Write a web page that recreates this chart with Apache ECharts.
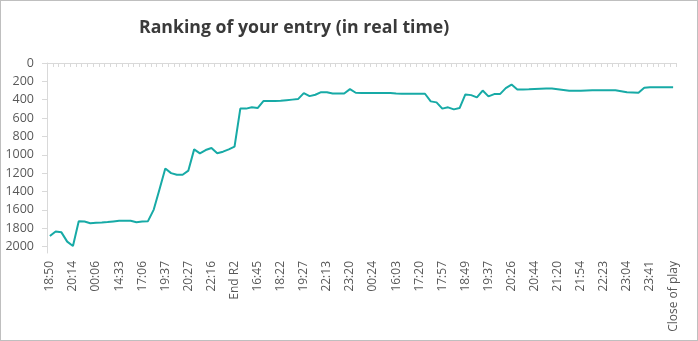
<!DOCTYPE html>
<html>
<head>
<meta charset="utf-8">
<script src="https://cdn.jsdelivr.net/npm/echarts@6/dist/echarts.min.js"></script>
<style>
  html, body { margin: 0; padding: 0; background: #fff; }
  #chart { width: 698px; height: 341px; box-sizing: border-box; border: 1px solid #bfbfbf; }
</style>
</head>
<body>
<div id="chart"></div>
<script>
// Time stamps printed under the axis (one every fourth reading)
const tickLabels = ['18:50', '20:14', '00:06', '14:33', '17:06', '19:37', '20:27', '22:16', 'End R2',
  '16:45', '18:22', '19:27', '22:13', '23:20', '00:24', '16:03', '17:20', '17:57', '18:49', '19:37',
  '20:26', '20:44', '21:20', '21:54', '22:23', '23:04', '23:41', 'Close of play'];

// Rank of the entry at each reading (lower is better)
const ranking = [
  1885, 1835, 1845, 1946, 1993, 1723, 1727, 1745, 1741, 1739,
  1733, 1726, 1719, 1719, 1719, 1734, 1728, 1723, 1597, 1375,
  1150, 1200, 1218, 1218, 1172, 941, 984, 948, 926, 984,
  966, 941, 912, 497, 497, 483, 491, 415, 415, 415,
  411, 405, 399, 393, 328, 361, 346, 318, 318, 332,
  332, 332, 285, 324, 326, 328, 328, 328, 328, 328,
  332, 335, 335, 335, 335, 335, 418, 429, 497, 483,
  505, 491, 343, 350, 375, 300, 364, 339, 339, 274,
  235, 289, 289, 287, 284, 281, 279, 278, 285, 294,
  303, 303, 303, 300, 298, 296, 296, 296, 296, 307,
  318, 321, 324, 270, 264, 264, 264, 264, 264
];

const rankTicks = [0, 200, 400, 600, 800, 1000, 1200, 1400, 1600, 1800, 2000];

// One category per reading; only every fourth one carries a printed time
const categories = ranking.map((_, i) => (i % 4 === 0 ? tickLabels[i / 4] : ''));

const chart = echarts.init(document.getElementById('chart'), null, { renderer: 'canvas' });
chart.setOption({
  animation: false,
  title: {
    text: 'Ranking of your entry (in real time)',
    left: 133,
    top: 13,
    textStyle: { fontFamily: 'Open Sans', fontWeight: 'bold', fontSize: 17.7, color: '#3a3a3a' }
  },
  grid: { left: 46, right: 21, top: 62, bottom: 87, containLabel: false },
  xAxis: {
    type: 'category',
    data: categories,
    boundaryGap: true,
    axisLine: { lineStyle: { color: '#d9d9d9', width: 1 } },
    axisTick: { show: true, interval: 0, length: 4, lineStyle: { color: '#d9d9d9' } },
    axisLabel: {
      interval: 3,
      rotate: 90,
      margin: 8,
      fontFamily: 'Open Sans',
      fontSize: 12,
      color: '#595959'
    },
    splitLine: { show: false }
  },
  yAxis: {
    type: 'value',
    inverse: true,
    min: 0,
    max: 2070,
    axisLine: { show: true, lineStyle: { color: '#d9d9d9', width: 1 } },
    axisTick: { show: true, length: 5, customValues: rankTicks, lineStyle: { color: '#d9d9d9' } },
    axisLabel: {
      customValues: rankTicks,
      formatter: (v) => String(v),
      margin: 13,
      fontFamily: 'Open Sans',
      fontSize: 12.5,
      color: '#595959'
    },
    splitLine: { show: false }
  },
  series: [{
    type: 'line',
    data: ranking,
    symbol: 'none',
    smooth: false,
    lineStyle: { color: '#17aaa6', width: 2 }
  }]
});
</script>
</body>
</html>
